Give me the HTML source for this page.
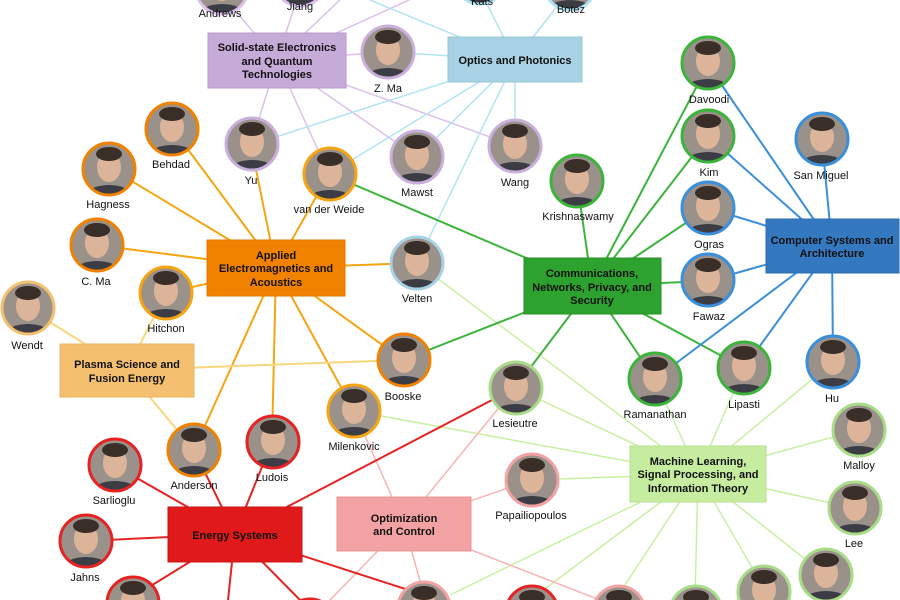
<!DOCTYPE html>
<html><head><meta charset="utf-8"><style>
html,body{margin:0;padding:0;background:#fff;width:900px;height:600px;overflow:hidden}
svg{display:block;overflow:hidden}
text{font-family:"Liberation Sans",sans-serif;font-size:11px;fill:#111;text-anchor:middle}
.b{font-weight:bold;font-size:11px}
</style></head><body>
<svg width="900" height="600" viewBox="0 0 900 600">
<defs>
<clipPath id="c"><circle r="25"/></clipPath>
<clipPath id="frame"><rect x="0" y="0" width="900" height="600"/></clipPath>
<g id="p"><g clip-path="url(#c)"><rect x="-26" y="-26" width="52" height="52" fill="#9a928a"/><ellipse cx="0" cy="-2" rx="12" ry="15" fill="#dcb49a"/><ellipse cx="0" cy="-15" rx="13" ry="7" fill="#3a2e28"/><ellipse cx="0" cy="26" rx="22" ry="10" fill="#3c3c44"/></g></g>
</defs>
<g clip-path="url(#frame)">
<g fill="none" stroke-width="2">
<g stroke="#dcc0ec" stroke-width="1.5">
<line x1="277" y1="60" x2="222" y2="-5"/><line x1="277" y1="60" x2="300" y2="-10"/><line x1="277" y1="60" x2="345" y2="-5"/><line x1="277" y1="60" x2="420" y2="-5"/>
<line x1="277" y1="60" x2="388" y2="52"/><line x1="277" y1="60" x2="251" y2="145"/><line x1="277" y1="60" x2="329" y2="174"/><line x1="277" y1="60" x2="417" y2="157"/><line x1="277" y1="60" x2="515" y2="146"/>
</g>
<g stroke="#b0e4f4" stroke-width="1.5">
<line x1="515" y1="60" x2="480" y2="-10"/><line x1="515" y1="60" x2="570" y2="-10"/><line x1="515" y1="60" x2="370" y2="0"/>
<line x1="515" y1="60" x2="388" y2="52"/><line x1="515" y1="60" x2="251" y2="145"/><line x1="515" y1="60" x2="329" y2="174"/><line x1="515" y1="60" x2="417" y2="157"/><line x1="515" y1="60" x2="515" y2="146"/><line x1="515" y1="60" x2="417" y2="263"/>
</g>
<g stroke="#f5a511">
<line x1="276" y1="268" x2="172" y2="128"/><line x1="276" y1="268" x2="110" y2="168"/><line x1="276" y1="268" x2="251" y2="145"/><line x1="276" y1="268" x2="329" y2="174"/><line x1="276" y1="268" x2="96" y2="245"/><line x1="276" y1="268" x2="166" y2="293"/><line x1="276" y1="268" x2="417" y2="263"/><line x1="276" y1="268" x2="403" y2="360"/><line x1="276" y1="268" x2="354" y2="411"/><line x1="276" y1="268" x2="272" y2="442"/><line x1="276" y1="268" x2="194" y2="450"/>
</g>
<g stroke="#f8d77c">
<line x1="127" y1="370" x2="27" y2="308"/><line x1="127" y1="370" x2="166" y2="293"/><line x1="127" y1="370" x2="403" y2="360"/><line x1="127" y1="370" x2="194" y2="450"/>
</g>
<g stroke="#c9f0a2" stroke-width="1.5">
<line x1="698" y1="474" x2="417" y2="263"/><line x1="698" y1="474" x2="354" y2="411"/><line x1="698" y1="474" x2="515" y2="388"/><line x1="698" y1="474" x2="655" y2="379"/><line x1="698" y1="474" x2="744" y2="368"/><line x1="698" y1="474" x2="833" y2="362"/><line x1="698" y1="474" x2="859" y2="430"/><line x1="698" y1="474" x2="854" y2="508"/><line x1="698" y1="474" x2="531" y2="480"/><line x1="698" y1="474" x2="825" y2="575"/><line x1="698" y1="474" x2="765" y2="590"/><line x1="698" y1="474" x2="695" y2="600"/><line x1="698" y1="474" x2="615" y2="600"/><line x1="698" y1="474" x2="530" y2="600"/><line x1="698" y1="474" x2="450" y2="595"/>
</g>
<g stroke="#f8b4b4" stroke-width="1.5">
<line x1="404" y1="524" x2="354" y2="411"/><line x1="404" y1="524" x2="515" y2="388"/><line x1="404" y1="524" x2="531" y2="480"/><line x1="404" y1="524" x2="424" y2="595"/><line x1="404" y1="524" x2="600" y2="600"/><line x1="404" y1="524" x2="330" y2="600"/>
</g>
<g stroke="#3cb43c">
<line x1="592" y1="286" x2="329" y2="174"/><line x1="592" y1="286" x2="577" y2="181"/><line x1="592" y1="286" x2="708" y2="65"/><line x1="592" y1="286" x2="708" y2="136"/><line x1="592" y1="286" x2="708" y2="208"/><line x1="592" y1="286" x2="708" y2="281"/><line x1="592" y1="286" x2="655" y2="379"/><line x1="592" y1="286" x2="744" y2="368"/><line x1="592" y1="286" x2="515" y2="388"/><line x1="592" y1="286" x2="403" y2="360"/>
</g>
<g stroke="#3b8ed9">
<line x1="832" y1="246" x2="708" y2="65"/><line x1="832" y1="246" x2="708" y2="136"/><line x1="832" y1="246" x2="822" y2="140"/><line x1="832" y1="246" x2="708" y2="208"/><line x1="832" y1="246" x2="708" y2="281"/><line x1="832" y1="246" x2="655" y2="379"/><line x1="832" y1="246" x2="744" y2="368"/><line x1="832" y1="246" x2="833" y2="362"/>
</g>
<g stroke="#e62222">
<line x1="235" y1="534" x2="114" y2="465"/><line x1="235" y1="534" x2="194" y2="450"/><line x1="235" y1="534" x2="272" y2="442"/><line x1="235" y1="534" x2="515" y2="388"/><line x1="235" y1="534" x2="85" y2="541"/><line x1="235" y1="534" x2="128" y2="600"/><line x1="235" y1="534" x2="228" y2="600"/><line x1="235" y1="534" x2="300" y2="600"/><line x1="235" y1="534" x2="424" y2="595"/>
</g>
</g>
<g stroke-width="1">
<rect x="208" y="33" width="138" height="55" fill="#c6aad8" stroke="#b898cc"/>
<rect x="448" y="37" width="134" height="45" fill="#a8d2e4" stroke="#98c6da"/>
<rect x="207" y="240" width="138" height="56" fill="#f08200" stroke="#e07800"/>
<rect x="524" y="258" width="137" height="56" fill="#2ea22e" stroke="#259025"/>
<rect x="766" y="219" width="133" height="54" fill="#3478c0" stroke="#2d6cb0"/>
<rect x="60" y="344" width="134" height="53" fill="#f4c070" stroke="#eab460"/>
<rect x="630" y="446" width="136" height="56" fill="#c6eca0" stroke="#b4e090"/>
<rect x="337" y="497" width="134" height="54" fill="#f2a2a2" stroke="#e89494"/>
<rect x="168" y="507" width="134" height="55" fill="#e01a1a" stroke="#c81414"/>
</g>
<g class="b">
<text class="b" x="277" y="51">Solid-state Electronics</text><text class="b" x="277" y="65">and Quantum</text><text class="b" x="277" y="78">Technologies</text>
<text class="b" x="515" y="64">Optics and Photonics</text>
<text class="b" x="276" y="259">Applied</text><text class="b" x="276" y="272">Electromagnetics and</text><text class="b" x="276" y="286">Acoustics</text>
<text class="b" x="592" y="277">Communications,</text><text class="b" x="592" y="291">Networks, Privacy, and</text><text class="b" x="592" y="304">Security</text>
<text class="b" x="832" y="244">Computer Systems and</text><text class="b" x="832" y="257">Architecture</text>
<text class="b" x="127" y="368">Plasma Science and</text><text class="b" x="127" y="382">Fusion Energy</text>
<text class="b" x="698" y="465">Machine Learning,</text><text class="b" x="698" y="478">Signal Processing, and</text><text class="b" x="698" y="492">Information Theory</text>
<text class="b" x="404" y="522">Optimization</text><text class="b" x="404" y="535">and Control</text>
<text class="b" x="235" y="539">Energy Systems</text>
</g>
<g fill="none" stroke-width="3">
<use href="#p" x="222" y="-12"/><circle cx="222" cy="-12" r="26" stroke="#dcc0ec"/>
<use href="#p" x="300" y="-20"/><circle cx="300" cy="-20" r="26" stroke="#dcc0ec"/>
<use href="#p" x="480" y="-22"/><circle cx="480" cy="-22" r="26" stroke="#b0e4f4"/>
<use href="#p" x="570" y="-16"/><circle cx="570" cy="-16" r="26" stroke="#b0e4f4"/>
<use href="#p" x="388" y="52"/><circle cx="388" cy="52" r="26" stroke="#c9b0dc"/>
<use href="#p" x="708" y="63"/><circle cx="708" cy="63" r="26" stroke="#3cb43c"/>
<use href="#p" x="708" y="136"/><circle cx="708" cy="136" r="26" stroke="#3cb43c"/>
<use href="#p" x="822" y="139"/><circle cx="822" cy="139" r="26" stroke="#3b8ed9"/>
<use href="#p" x="577" y="181"/><circle cx="577" cy="181" r="26" stroke="#3cb43c"/>
<use href="#p" x="708" y="208"/><circle cx="708" cy="208" r="26" stroke="#3b8ed9"/>
<use href="#p" x="708" y="280"/><circle cx="708" cy="280" r="26" stroke="#3b8ed9"/>
<use href="#p" x="172" y="129"/><circle cx="172" cy="129" r="26" stroke="#f08200"/>
<use href="#p" x="109" y="169"/><circle cx="109" cy="169" r="26" stroke="#f08200"/>
<use href="#p" x="252" y="144"/><circle cx="252" cy="144" r="26" stroke="#c9b0dc"/>
<use href="#p" x="330" y="174"/><circle cx="330" cy="174" r="26" stroke="#f5a511"/>
<use href="#p" x="417" y="157"/><circle cx="417" cy="157" r="26" stroke="#c9b0dc"/>
<use href="#p" x="515" y="146"/><circle cx="515" cy="146" r="26" stroke="#c9b0dc"/>
<use href="#p" x="97" y="245"/><circle cx="97" cy="245" r="26" stroke="#f08200"/>
<use href="#p" x="166" y="293"/><circle cx="166" cy="293" r="26" stroke="#f5a511"/>
<use href="#p" x="28" y="308"/><circle cx="28" cy="308" r="26" stroke="#f4c070"/>
<use href="#p" x="417" y="263"/><circle cx="417" cy="263" r="26" stroke="#a8d2e4"/>
<use href="#p" x="404" y="360"/><circle cx="404" cy="360" r="26" stroke="#f08200"/>
<use href="#p" x="354" y="411"/><circle cx="354" cy="411" r="26" stroke="#f5a511"/>
<use href="#p" x="516" y="388"/><circle cx="516" cy="388" r="26" stroke="#a8dc88"/>
<use href="#p" x="655" y="379"/><circle cx="655" cy="379" r="26" stroke="#3cb43c"/>
<use href="#p" x="744" y="368"/><circle cx="744" cy="368" r="26" stroke="#3cb43c"/>
<use href="#p" x="833" y="362"/><circle cx="833" cy="362" r="26" stroke="#3b8ed9"/>
<use href="#p" x="859" y="430"/><circle cx="859" cy="430" r="26" stroke="#a8dc88"/>
<use href="#p" x="855" y="508"/><circle cx="855" cy="508" r="26" stroke="#a8dc88"/>
<use href="#p" x="532" y="480"/><circle cx="532" cy="480" r="26" stroke="#f2a2a2"/>
<use href="#p" x="194" y="450"/><circle cx="194" cy="450" r="26" stroke="#f08200"/>
<use href="#p" x="273" y="442"/><circle cx="273" cy="442" r="26" stroke="#e62222"/>
<use href="#p" x="115" y="465"/><circle cx="115" cy="465" r="26" stroke="#e62222"/>
<use href="#p" x="86" y="541"/><circle cx="86" cy="541" r="26" stroke="#e62222"/>
<use href="#p" x="133" y="603"/><circle cx="133" cy="603" r="26" stroke="#e62222"/>
<use href="#p" x="310" y="625"/><circle cx="310" cy="625" r="26" stroke="#e62222"/>
<use href="#p" x="424" y="608"/><circle cx="424" cy="608" r="26" stroke="#f2a2a2"/>
<use href="#p" x="532" y="612"/><circle cx="532" cy="612" r="26" stroke="#e62222"/>
<use href="#p" x="619" y="612"/><circle cx="619" cy="612" r="26" stroke="#f2a2a2"/>
<use href="#p" x="696" y="612"/><circle cx="696" cy="612" r="26" stroke="#a8dc88"/>
<use href="#p" x="764" y="592"/><circle cx="764" cy="592" r="26" stroke="#a8dc88"/>
<use href="#p" x="826" y="575"/><circle cx="826" cy="575" r="26" stroke="#a8dc88"/>
</g>
<g>
<text x="220" y="17">Andrews</text><text x="300" y="10">Jiang</text><text x="482" y="5">Kats</text><text x="571" y="13">Botez</text>
<text x="388" y="92">Z. Ma</text><text x="709" y="103">Davoodi</text><text x="709" y="176">Kim</text><text x="821" y="179">San Miguel</text>
<text x="578" y="220">Krishnaswamy</text><text x="709" y="248">Ogras</text><text x="709" y="320">Fawaz</text>
<text x="171" y="168">Behdad</text><text x="108" y="208">Hagness</text><text x="251" y="184">Yu</text><text x="329" y="213">van der Weide</text>
<text x="417" y="196">Mawst</text><text x="515" y="186">Wang</text><text x="96" y="285">C. Ma</text><text x="166" y="332">Hitchon</text>
<text x="27" y="349">Wendt</text><text x="417" y="302">Velten</text><text x="403" y="400">Booske</text><text x="354" y="450">Milenkovic</text>
<text x="515" y="427">Lesieutre</text><text x="655" y="418">Ramanathan</text><text x="744" y="408">Lipasti</text><text x="832" y="402">Hu</text>
<text x="859" y="469">Malloy</text><text x="854" y="547">Lee</text><text x="531" y="519">Papailiopoulos</text>
<text x="194" y="489">Anderson</text><text x="272" y="481">Ludois</text><text x="114" y="504">Sarlioglu</text><text x="85" y="581">Jahns</text>
</g>
</g>
</svg>
</body></html>
